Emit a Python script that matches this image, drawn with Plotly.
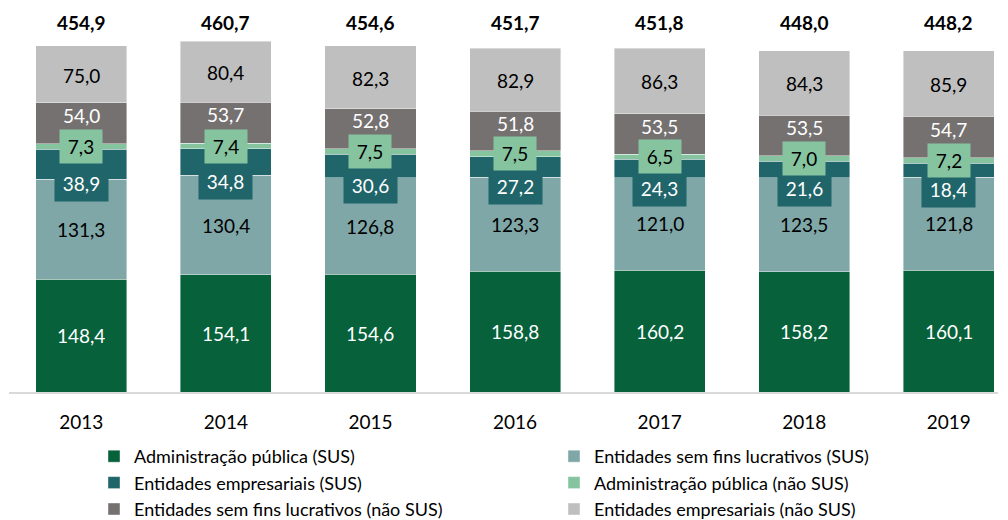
import plotly.graph_objects as go

# Gasto por tipo de prestador, 2013-2019
anos = ["2013", "2014", "2015", "2016", "2017", "2018", "2019"]
adm_sus = [148.4, 154.1, 154.6, 158.8, 160.2, 158.2, 160.1]
esfl_sus = [131.3, 130.4, 126.8, 123.3, 121.0, 123.5, 121.8]
emp_sus = [38.9, 34.8, 30.6, 27.2, 24.3, 21.6, 18.4]
adm_nsus = [7.3, 7.4, 7.5, 7.5, 6.5, 7.0, 7.2]
esfl_nsus = [54.0, 53.7, 52.8, 51.8, 53.5, 53.5, 54.7]
emp_nsus = [75.0, 80.4, 82.3, 82.9, 86.3, 84.3, 85.9]
totais = [454.9, 460.7, 454.6, 451.7, 451.8, 448.0, 448.2]

FONT = "Lato"
FS = 19
FS_LEG = 18

# (nome, valores, cor da barra, cor do rótulo, legenda, caixa do rótulo, deslocamento vertical)
series = [
    ("Administração pública (SUS)", adm_sus, "#07613A", "white", "legend", None, 0),
    ("Entidades sem fins lucrativos (SUS)", esfl_sus, "#7FA7A8", "black", "legend2", None, 0),
    ("Entidades empresariais (SUS)", emp_sus, "#1F656A", "white", "legend", (53, 36), -19),
    ("Administração pública (não SUS)", adm_nsus, "#86C4A0", "black", "legend2", (42, 33), 0),
    ("Entidades sem fins lucrativos (não SUS)", esfl_nsus, "#767171", "white", "legend", None, 8),
    ("Entidades empresariais (não SUS)", emp_nsus, "#BFBFBF", "black", "legend2", None, -1),
]


def fmt(v):
    return f"{v:.1f}".replace(".", ",")


fig = go.Figure()
annotations = []
base = [0.0] * len(anos)
boxed = []
for nome, vals, cor, cor_txt, leg, caixa, dy in series:
    fig.add_trace(go.Bar(
        x=anos, y=vals, name=nome, legend=leg,
        marker=dict(color=cor, line=dict(color="rgba(255,255,255,0.55)", width=0.75)),
        hoverinfo="skip",
    ))
    for i, v in enumerate(vals):
        # no eixo de categorias, a posição da anotação é o índice da categoria
        ann = dict(
            x=i, y=base[i] + v / 2, xref="x", yref="y",
            text=fmt(v), showarrow=False, yshift=dy,
            font=dict(family=FONT, size=FS, color=cor_txt),
        )
        if caixa:
            ann.update(bgcolor=cor, width=caixa[0], height=caixa[1], borderpad=0)
            boxed.append(ann)
        else:
            annotations.append(ann)
        base[i] += v

# caixas desenhadas por cima: primeiro a teal, depois a verde clara
annotations.extend(boxed)

# totais em negrito, alinhados numa linha acima das barras
for i, t in enumerate(totais):
    annotations.append(dict(
        x=i, y=0.966, xref="x", yref="paper", yanchor="middle",
        text=f"<b>{fmt(t)}</b>", showarrow=False,
        font=dict(family=FONT, size=FS, color="black"),
    ))

leg_style = dict(
    xref="container", yref="container", y=1 - 438 / 520,
    xanchor="left", yanchor="top", orientation="v", traceorder="normal",
    font=dict(family=FONT, size=FS_LEG, color="black"), bgcolor="rgba(0,0,0,0)",
)

fig.update_layout(
    width=1008, height=520,
    margin=dict(l=9, r=10, t=10, b=128, autoexpand=False),
    barmode="stack", bargap=0.37,
    plot_bgcolor="white", paper_bgcolor="white",
    font=dict(family=FONT, size=FS, color="black"),
    annotations=annotations,
    xaxis=dict(
        type="category", range=[-0.5, 6.34], showline=True, linecolor="#D9D9D9",
        linewidth=1.5, ticks="", tickfont=dict(family=FONT, size=FS, color="black"),
        ticklabelstandoff=12, fixedrange=True, automargin=False,
    ),
    yaxis=dict(range=[0, 501.8], visible=False, fixedrange=True),
    legend=dict(x=94 / 1008, **leg_style),
    legend2=dict(x=554 / 1008, **leg_style),
    showlegend=True,
)

fig.write_html("out.html")
